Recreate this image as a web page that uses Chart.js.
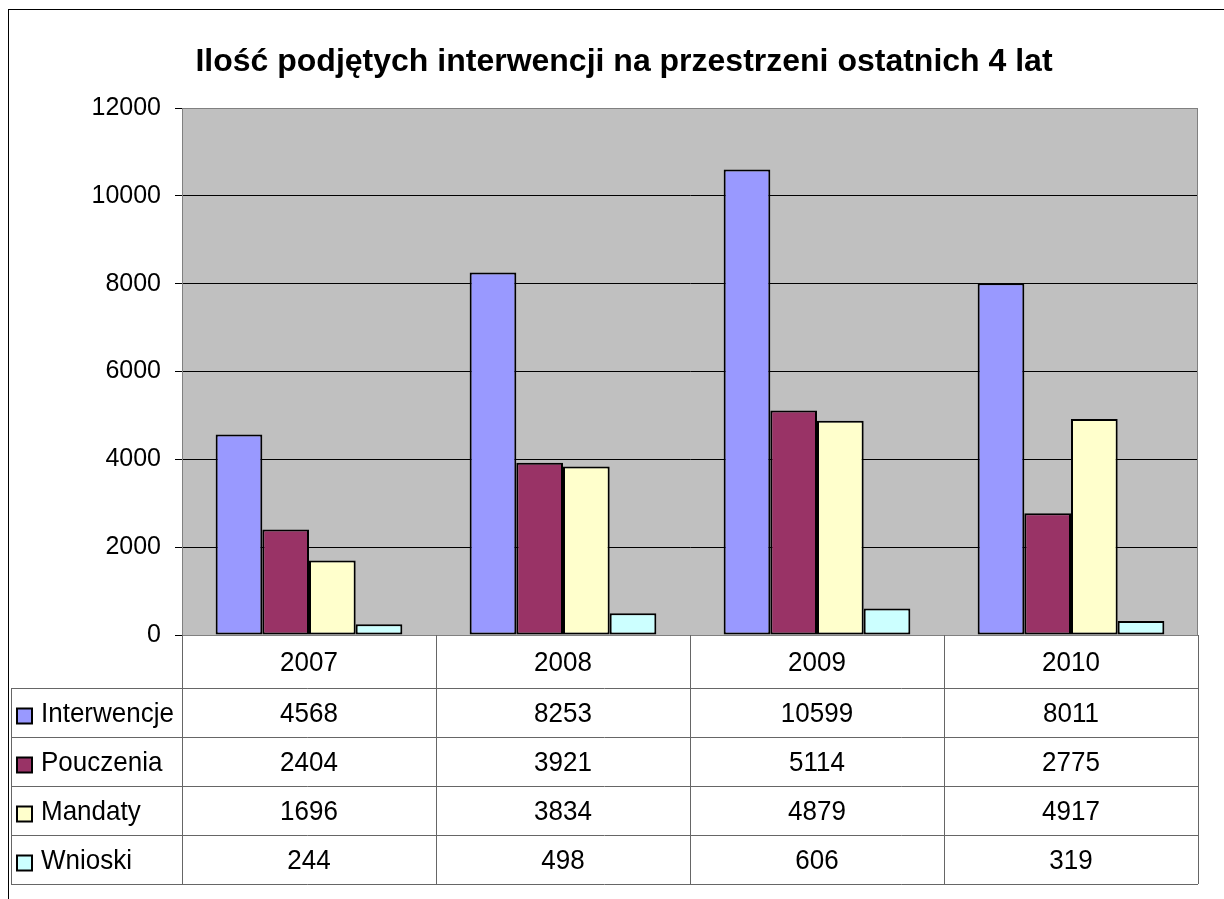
<!DOCTYPE html>
<html>
<head>
<meta charset="utf-8">
<script src="https://cdn.jsdelivr.net/npm/chart.js@4.4.0/dist/chart.umd.min.js"></script>
<style>
  body{margin:0;background:#fff;overflow:hidden}
  #frame{position:absolute;left:8px;top:9px;width:2000px;height:2000px;border-left:1px solid #000;border-top:1px solid #000;pointer-events:none}
  canvas{position:absolute;left:0;top:0}
</style>
</head>
<body>
<div id="frame"></div>
<canvas id="c" width="1224" height="899"></canvas>
<script>
const TITLE = "Ilość podjętych interwencji na przestrzeni ostatnich 4 lat";
const years = ["2007","2008","2009","2010"];
const seriesNames = ["Interwencje","Pouczenia","Mandaty","Wnioski"];
const interwencje = [4568, 8253, 10599, 8011];
const pouczenia = [2404, 3921, 5114, 2775];
const mandaty = [1696, 3834, 4879, 4917];
const wnioski = [244, 498, 606, 319];
const yTicks = [0, 2000, 4000, 6000, 8000, 10000, 12000];
const colors = ["#9999FF","#993366","#FFFFCC","#CCFFFF"];

const FONT = "'Liberation Sans', Arial, sans-serif";
const HEADER_H = 53, ROW_H = 49;

const series = [interwencje, pouczenia, mandaty, wnioski];

// grey plot background + frame
const plotBg = {
  id:"plotBg",
  beforeDraw(chart){
    const {ctx, chartArea:a} = chart;
    ctx.save();
    ctx.fillStyle = "#C0C0C0";
    ctx.fillRect(a.left, a.top, a.width, a.height);
    ctx.restore();
  },
  afterDatasetsDraw(chart){
    const {ctx, chartArea:a} = chart;
    ctx.save();
    ctx.strokeStyle = "#808080"; ctx.lineWidth = 1;
    ctx.strokeRect(a.left+.5, a.top+.5, a.width-1, a.height);
    ctx.restore();
  }
};

// title drawn above plot
const titlePlug = {
  id:"titlePlug",
  afterDraw(chart){
    const ctx = chart.ctx;
    ctx.save();
    ctx.font = "bold 32px " + FONT;
    ctx.fillStyle = "#000"; ctx.textAlign = "center"; ctx.textBaseline = "middle";
    ctx.fillText(TITLE, 624, 62);
    ctx.restore();
  }
};

// stretched text, like the original export
function tallText(ctx, s, x, y){
  ctx.save();
  ctx.translate(x, y); ctx.scale(1, 1.08);
  ctx.fillText(s, 0, 0);
  ctx.restore();
}

// data table under x axis
const dataTable = {
  id:"dataTable",
  afterDraw(chart){
    const {ctx, chartArea:a} = chart;
    const x = chart.scales.x;
    const n = years.length, w = a.width / n;
    const top = a.bottom, bottom = top + HEADER_H + ROW_H*series.length;
    const tableLeft = 11;
    ctx.save();
    ctx.strokeStyle = "#666"; ctx.lineWidth = 1;
    ctx.beginPath();
    for(let i=0;i<=n;i++){
      const px = Math.round(a.left + i*w) + .5;
      ctx.moveTo(px, top); ctx.lineTo(px, bottom);
    }
    for(let r=0;r<=series.length;r++){
      const py = Math.round(top + HEADER_H + r*ROW_H) + .5;
      ctx.moveTo(tableLeft, py); ctx.lineTo(a.right, py);
    }
    ctx.moveTo(tableLeft+.5, top+HEADER_H); ctx.lineTo(tableLeft+.5, bottom);
    ctx.stroke();

    ctx.font = "26px " + FONT;
    ctx.fillStyle = "#000"; ctx.textBaseline = "middle"; ctx.textAlign = "center";
    years.forEach((y,i)=> tallText(ctx, y, x.getPixelForValue(i), top + HEADER_H/2 + 2));
    series.forEach((vals,r)=>{
      const cy = top + HEADER_H + r*ROW_H + ROW_H/2 + 2;
      ctx.textAlign = "center";
      vals.forEach((v,i)=> tallText(ctx, String(v), x.getPixelForValue(i), cy));
      // legend key
      ctx.fillStyle = colors[r];
      ctx.fillRect(17, cy-6, 15, 15);
      ctx.strokeStyle = "#000"; ctx.lineWidth = 2;
      ctx.strokeRect(17, cy-6, 15, 15);
      ctx.fillStyle = "#000"; ctx.textAlign = "left";
      tallText(ctx, seriesNames[r], 41, cy);
    });
    ctx.restore();
  }
};

new Chart(document.getElementById("c"), {
  type:"bar",
  data:{
    labels: years,
    datasets: seriesNames.map((name,i)=>({
      label:name, data:series[i], backgroundColor:colors[i],
      borderColor:"#000", borderWidth:2, borderSkipped:false
    }))
  },
  options:{
    responsive:false, animation:false,
    layout:{padding:{left:0, right:26, top:108, bottom:15}},
    datasets:{bar:{barPercentage:1, categoryPercentage:0.735}},
    plugins:{legend:{display:false}, title:{display:false}, tooltip:{enabled:false}},
    scales:{
      x:{
        grid:{display:false}, border:{display:false},
        ticks:{display:false},
        afterFit(s){ s.height = HEADER_H + ROW_H*series.length; }
      },
      y:{
        min:0, max:12000,
        afterBuildTicks(s){ s.ticks = yTicks.map(v=>({value:v})); },
        grid:{color:"#000", lineWidth:1, tickLength:7, drawOnChartArea:true},
        border:{display:true, color:"#808080"},
        ticks:{color:"#000", font:{family:FONT, size:25}, padding:14, callback:v=>String(v)},
        afterFit(s){ s.width = 182; }
      }
    }
  },
  plugins:[plotBg, dataTable, titlePlug]
});
</script>
</body>
</html>
